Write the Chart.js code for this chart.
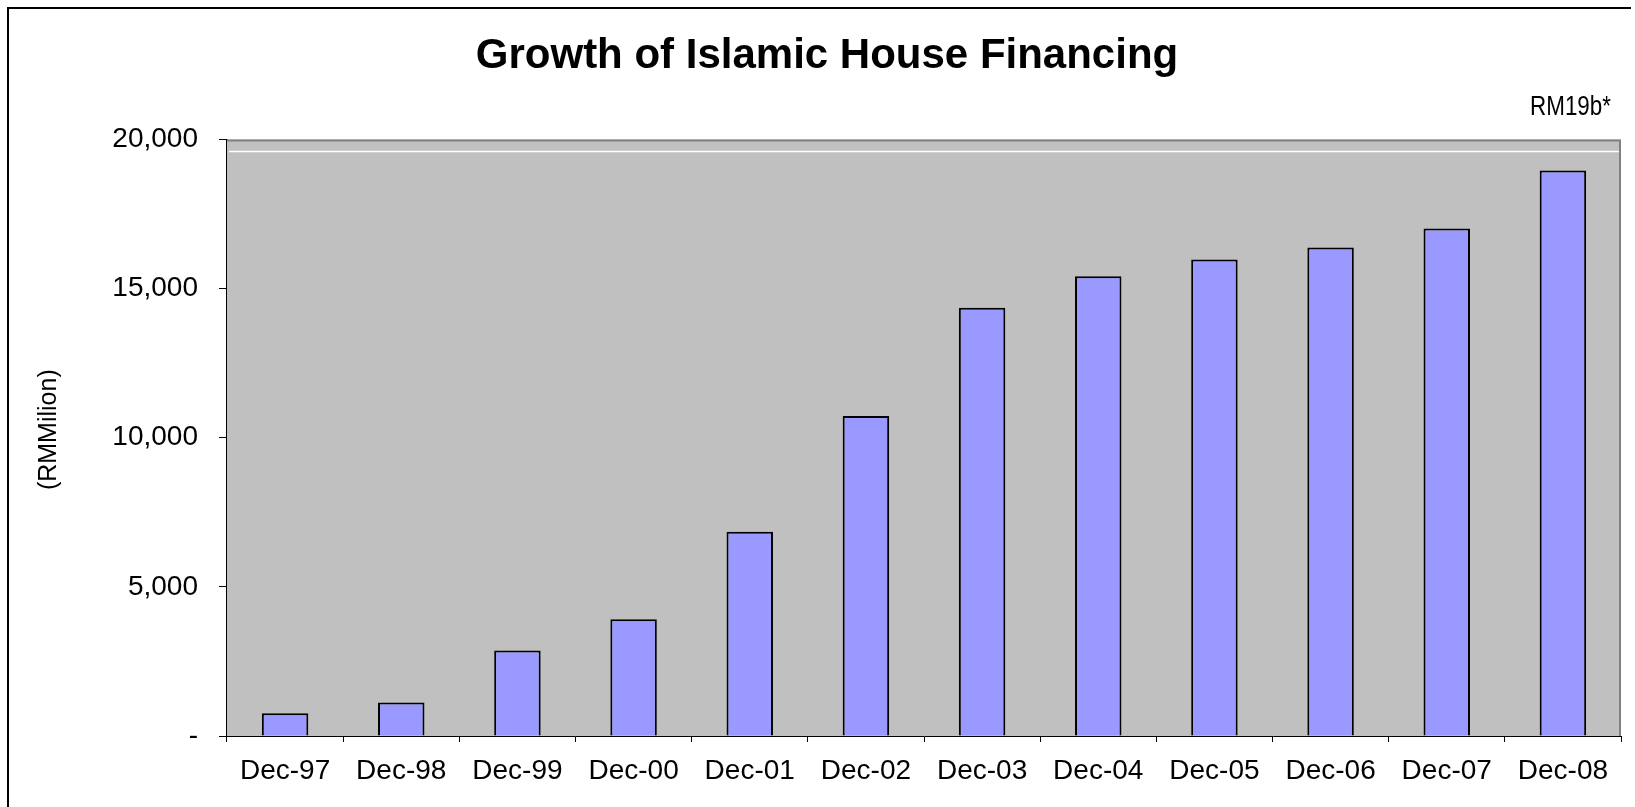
<!DOCTYPE html>
<html>
<head>
<meta charset="utf-8">
<script src="https://cdn.jsdelivr.net/npm/chart.js@4"></script>
<style>
  html, body { margin: 0; padding: 0; background: #ffffff; overflow: hidden; }
  #wrap { position: relative; width: 1635px; height: 807px; overflow: hidden; }
  canvas { display: block; }
</style>
</head>
<body>
<div id="wrap"><canvas id="c" width="1635" height="807"></canvas></div>
<script>
const TITLE = 'Growth of Islamic House Financing';
const NOTE = 'RM19b*';
const Y_TITLE = '(RMMilion)';
const categories = ['Dec-97','Dec-98','Dec-99','Dec-00','Dec-01','Dec-02','Dec-03','Dec-04','Dec-05','Dec-06','Dec-07','Dec-08'];
const financing = [760, 1120, 2870, 3910, 6850, 10730, 14360, 15410, 15970, 16380, 17010, 18960];
const yTicks = [0, 5000, 10000, 15000, 20000];
const REF_LINE = 19620;

const FONT = "'Liberation Sans', Arial, Helvetica, sans-serif";

const decor = {
  id: 'decor',
  beforeDatasetsDraw(chart) {
    const { ctx, chartArea: a, scales } = chart;
    ctx.save();
    ctx.fillStyle = '#C0C0C0';
    ctx.fillRect(a.left, a.top, a.right - a.left, a.bottom - a.top);
    ctx.strokeStyle = '#808080';
    ctx.lineWidth = 2;
    ctx.beginPath();
    ctx.moveTo(a.left, a.top + 1);
    ctx.lineTo(a.right - 1, a.top + 1);
    ctx.lineTo(a.right - 1, a.bottom);
    ctx.stroke();
    const y = Math.round(scales.y.getPixelForValue(REF_LINE)) + 0.5;
    ctx.strokeStyle = '#FFFFFF';
    ctx.lineWidth = 1.5;
    ctx.beginPath();
    ctx.moveTo(a.left + 2, y);
    ctx.lineTo(a.right - 2, y);
    ctx.stroke();
    ctx.restore();
  },
  afterDraw(chart) {
    const { ctx, chartArea: a } = chart;
    ctx.save();
    ctx.fillStyle = '#000';
    ctx.save();
    ctx.translate(a.right - 10, a.top - 32);
    ctx.scale(0.8, 1);
    ctx.font = '28px ' + FONT;
    ctx.textAlign = 'right';
    ctx.textBaseline = 'middle';
    ctx.fillText(NOTE, 0, 0);
    ctx.restore();
    ctx.save();
    ctx.translate(49, (a.top + a.bottom) / 2 - 8);
    ctx.rotate(-Math.PI / 2);
    ctx.font = '25px ' + FONT;
    ctx.textAlign = 'center';
    ctx.textBaseline = 'middle';
    ctx.fillText(Y_TITLE, 0, 0);
    ctx.restore();
    ctx.fillRect(7, 7, 2, 800);
    ctx.fillRect(7, 7, 1624, 2);
    ctx.restore();
  }
};

new Chart(document.getElementById('c'), {
  type: 'bar',
  data: {
    labels: categories,
    datasets: [{
      data: financing,
      backgroundColor: '#9999FF',
      borderColor: '#000000',
      borderWidth: 2,
      borderSkipped: 'bottom',
      categoryPercentage: 1.0,
      barPercentage: 0.4
    }]
  },
  options: {
    responsive: false,
    animation: false,
    devicePixelRatio: 1,
    layout: { padding: { left: 33, right: 14, top: 0, bottom: 0 } },
    plugins: {
      legend: { display: false },
      tooltip: { enabled: false },
      title: {
        display: true,
        text: TITLE,
        color: '#000',
        font: { family: FONT, size: 42, weight: 'bold' },
        padding: { top: 31, bottom: 58 }
      }
    },
    scales: {
      x: {
        grid: { display: true, drawOnChartArea: false, drawTicks: true, tickLength: 6, color: '#000', offset: true },
        border: { display: true, color: '#000', width: 1 },
        ticks: { color: '#000', font: { family: FONT, size: 28 }, padding: 12, autoSkip: false, maxRotation: 0 },
        afterFit(s) { s.height = 71; }
      },
      y: {
        min: 0, max: 20000,
        afterBuildTicks(s) { s.ticks = yTicks.map(v => ({ value: v })); },
        grid: { display: true, drawOnChartArea: false, drawTicks: true, tickLength: 8, color: '#000' },
        border: { display: true, color: '#000', width: 1.5 },
        ticks: {
          color: '#000',
          font: { family: FONT, size: 28 },
          padding: 21,
          callback: v => v === 0 ? '-' : v.toLocaleString('en-US')
        },
        afterFit(s) { s.width = 194; }
      }
    }
  },
  plugins: [decor]
});
</script>
</body>
</html>
